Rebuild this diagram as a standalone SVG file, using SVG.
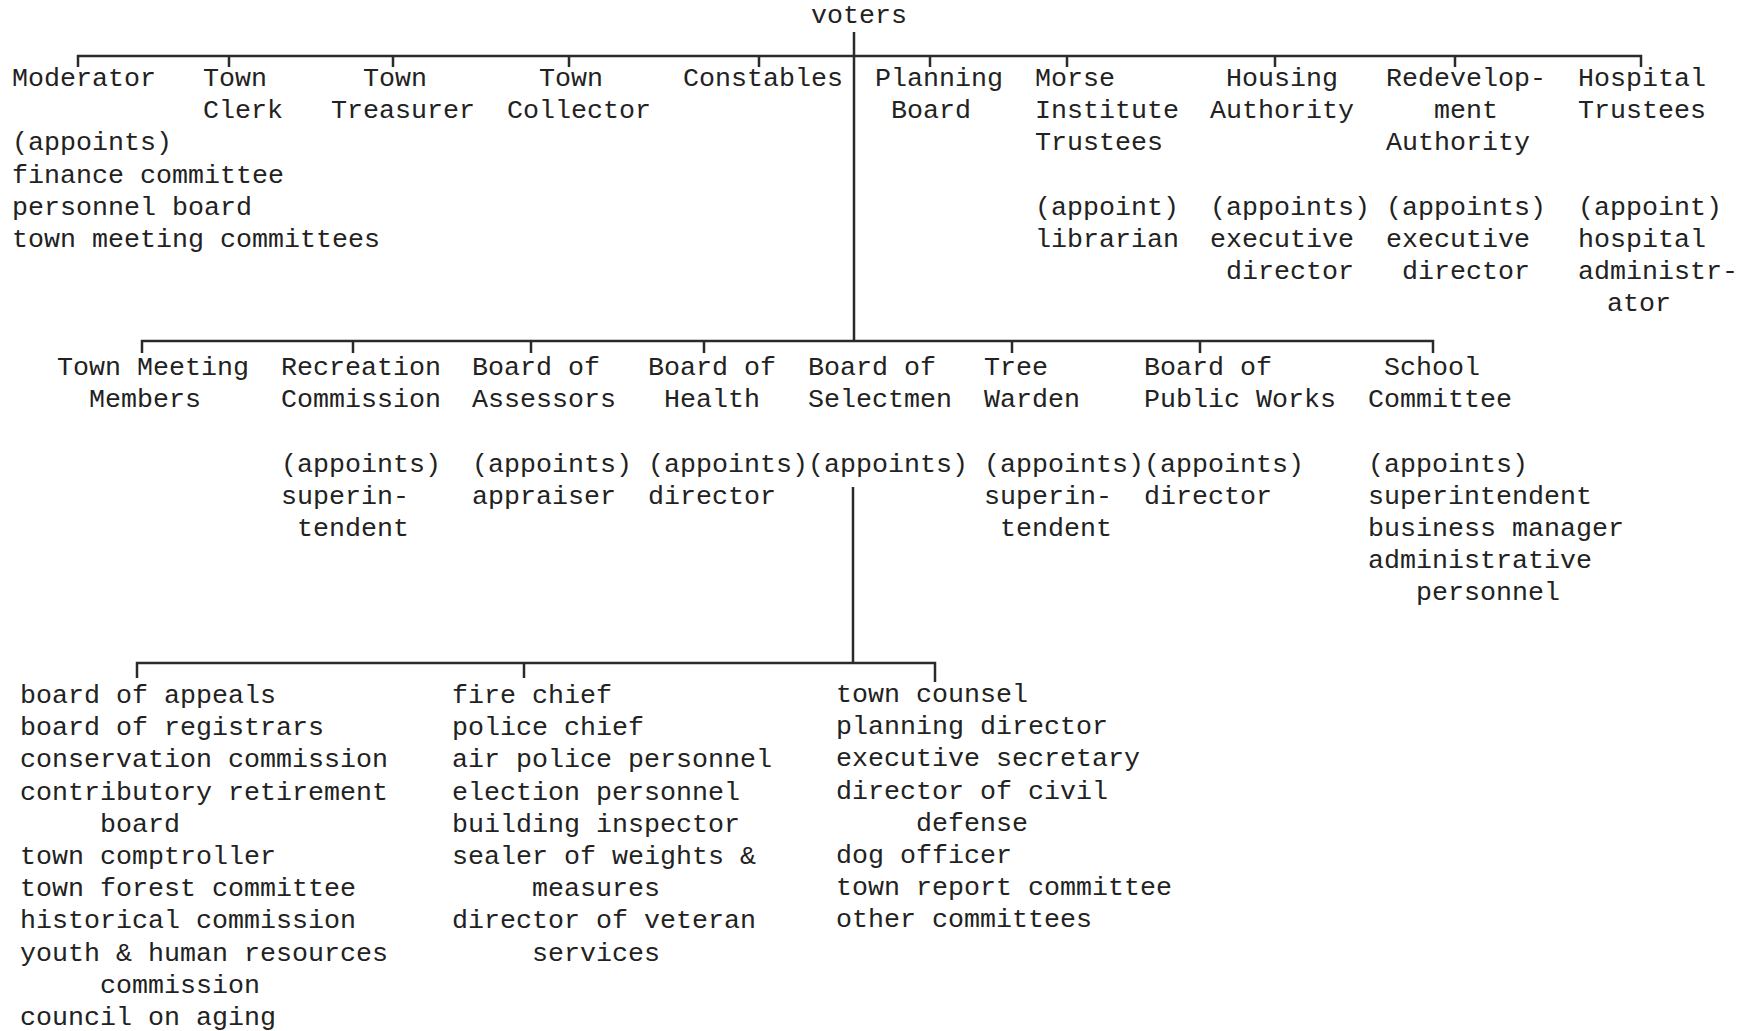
<svg xmlns="http://www.w3.org/2000/svg" width="1750" height="1031" viewBox="0 0 1750 1031">
<style>
.t { font-family: "Liberation Mono", "DejaVu Sans Mono", monospace; font-size: 26.67px; fill: #222; }
.c { stroke: #2a2a2a; stroke-width: 2.5; fill: none; }
</style>
<rect width="1750" height="1031" fill="#fff"/>
<g id="connectors" class="c">
  <path d="M854 32 V341"/>
  <path d="M78 67 V56 H1641 V67"/>
  <path d="M229 56 V67 M393 56 V67 M569 56 V67 M759 56 V67 M930 56 V67 M1067 56 V67 M1275 56 V67 M1455 56 V67"/>
  <path d="M142 353 V341 H1433 V353"/>
  <path d="M353 341 V353 M531 341 V353 M704 341 V353 M1012 341 V353 M1200 341 V353"/>
  <path d="M853 487 V663"/>
  <path d="M137 678 V663 H935 V682"/>
  <path d="M524 663 V678"/>
</g>
<g id="voters"><text class="t" x="811" y="23">voters</text></g>
<g id="moderator" class="t">
  <text x="12" y="86">Moderator</text>
  <text x="12" y="150.4">(appoints)</text>
  <text x="12" y="182.6">finance committee</text>
  <text x="12" y="214.8">personnel board</text>
  <text x="12" y="247">town meeting committees</text>
</g>
<g id="town-clerk" class="t">
  <text x="203" y="86">Town</text>
  <text x="203" y="118.2">Clerk</text>
</g>
<g id="town-treasurer" class="t">
  <text x="363" y="86">Town</text>
  <text x="331" y="118.2">Treasurer</text>
</g>
<g id="town-collector" class="t">
  <text x="539" y="86">Town</text>
  <text x="507" y="118.2">Collector</text>
</g>
<g id="constables" class="t">
  <text x="683" y="86">Constables</text>
</g>
<g id="planning-board" class="t">
  <text x="875" y="86">Planning</text>
  <text x="891" y="118.2">Board</text>
</g>
<g id="morse-institute-trustees" class="t">
  <text x="1035" y="86">Morse</text>
  <text x="1035" y="118.2">Institute</text>
  <text x="1035" y="150.4">Trustees</text>
  <text x="1035" y="214.8">(appoint)</text>
  <text x="1035" y="247">librarian</text>
</g>
<g id="housing-authority" class="t">
  <text x="1226" y="86">Housing</text>
  <text x="1210" y="118.2">Authority</text>
  <text x="1210" y="214.8">(appoints)</text>
  <text x="1210" y="247">executive</text>
  <text x="1226" y="279.2">director</text>
</g>
<g id="redevelopment-authority" class="t">
  <text x="1386" y="86">Redevelop-</text>
  <text x="1434" y="118.2">ment</text>
  <text x="1386" y="150.4">Authority</text>
  <text x="1386" y="214.8">(appoints)</text>
  <text x="1386" y="247">executive</text>
  <text x="1402" y="279.2">director</text>
</g>
<g id="hospital-trustees" class="t">
  <text x="1578" y="86">Hospital</text>
  <text x="1578" y="118.2">Trustees</text>
  <text x="1578" y="214.8">(appoint)</text>
  <text x="1578" y="247">hospital</text>
  <text x="1578" y="279.2">administr-</text>
  <text x="1607" y="311.4">ator</text>
</g>
<g id="town-meeting-members" class="t">
  <text x="57" y="375">Town Meeting</text>
  <text x="89" y="407.2">Members</text>
</g>
<g id="recreation-commission" class="t">
  <text x="281" y="375">Recreation</text>
  <text x="281" y="407.2">Commission</text>
  <text x="281" y="471.6">(appoints)</text>
  <text x="281" y="503.8">superin-</text>
  <text x="297" y="536">tendent</text>
</g>
<g id="board-of-assessors" class="t">
  <text x="472" y="375">Board of</text>
  <text x="472" y="407.2">Assessors</text>
  <text x="472" y="471.6">(appoints)</text>
  <text x="472" y="503.8">appraiser</text>
</g>
<g id="board-of-health" class="t">
  <text x="648" y="375">Board of</text>
  <text x="664" y="407.2">Health</text>
  <text x="648" y="471.6">(appoints)</text>
  <text x="648" y="503.8">director</text>
</g>
<g id="board-of-selectmen" class="t">
  <text x="808" y="375">Board of</text>
  <text x="808" y="407.2">Selectmen</text>
  <text x="808" y="471.6">(appoints)</text>
</g>
<g id="tree-warden" class="t">
  <text x="984" y="375">Tree</text>
  <text x="984" y="407.2">Warden</text>
  <text x="984" y="471.6">(appoints)</text>
  <text x="984" y="503.8">superin-</text>
  <text x="1000" y="536">tendent</text>
</g>
<g id="board-of-public-works" class="t">
  <text x="1144" y="375">Board of</text>
  <text x="1144" y="407.2">Public Works</text>
  <text x="1144" y="471.6">(appoints)</text>
  <text x="1144" y="503.8">director</text>
</g>
<g id="school-committee" class="t">
  <text x="1384" y="375">School</text>
  <text x="1368" y="407.2">Committee</text>
  <text x="1368" y="471.6">(appoints)</text>
  <text x="1368" y="503.8">superintendent</text>
  <text x="1368" y="536">business manager</text>
  <text x="1368" y="568.2">administrative</text>
  <text x="1416" y="600.4">personnel</text>
</g>
<g id="selectmen-appointees-1" class="t">
  <text x="20" y="703">board of appeals</text>
  <text x="20" y="735.2">board of registrars</text>
  <text x="20" y="767.4">conservation commission</text>
  <text x="20" y="799.6">contributory retirement</text>
  <text x="100" y="831.8">board</text>
  <text x="20" y="864">town comptroller</text>
  <text x="20" y="896.2">town forest committee</text>
  <text x="20" y="928.4">historical commission</text>
  <text x="20" y="960.6">youth &amp; human resources</text>
  <text x="100" y="992.8">commission</text>
  <text x="20" y="1025">council on aging</text>
</g>
<g id="selectmen-appointees-2" class="t">
  <text x="452" y="703">fire chief</text>
  <text x="452" y="735.2">police chief</text>
  <text x="452" y="767.4">air police personnel</text>
  <text x="452" y="799.6">election personnel</text>
  <text x="452" y="831.8">building inspector</text>
  <text x="452" y="864">sealer of weights &amp;</text>
  <text x="532" y="896.2">measures</text>
  <text x="452" y="928.4">director of veteran</text>
  <text x="532" y="960.6">services</text>
</g>
<g id="selectmen-appointees-3" class="t">
  <text x="836" y="702">town counsel</text>
  <text x="836" y="734.2">planning director</text>
  <text x="836" y="766.4">executive secretary</text>
  <text x="836" y="798.6">director of civil</text>
  <text x="916" y="830.8">defense</text>
  <text x="836" y="863">dog officer</text>
  <text x="836" y="895.2">town report committee</text>
  <text x="836" y="927.4">other committees</text>
</g>
</svg>
